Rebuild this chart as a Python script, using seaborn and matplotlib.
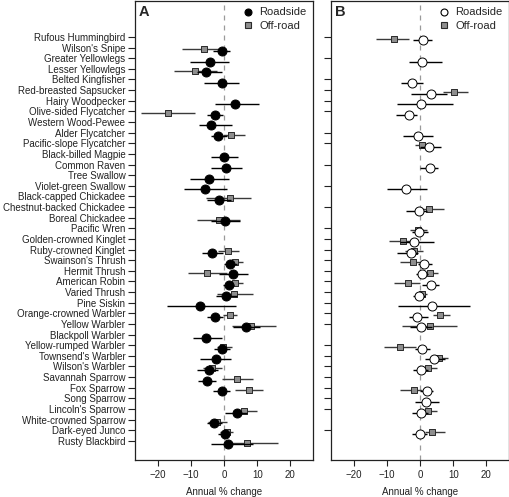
import numpy as np
import pandas as pd
import matplotlib
matplotlib.use("Agg")
import matplotlib.pyplot as plt
import seaborn as sns
from matplotlib.lines import Line2D

nan = np.nan

species = [
    "Rufous Hummingbird", "Wilson's Snipe", "Greater Yellowlegs", "Lesser Yellowlegs",
    "Belted Kingfisher", "Red-breasted Sapsucker", "Hairy Woodpecker",
    "Olive-sided Flycatcher", "Western Wood-Pewee", "Alder Flycatcher",
    "Pacific-slope Flycatcher", "Black-billed Magpie", "Common Raven", "Tree Swallow",
    "Violet-green Swallow", "Black-capped Chickadee", "Chestnut-backed Chickadee",
    "Boreal Chickadee", "Pacific Wren", "Golden-crowned Kinglet", "Ruby-crowned Kinglet",
    "Swainson's Thrush", "Hermit Thrush", "American Robin", "Varied Thrush", "Pine Siskin",
    "Orange-crowned Warbler", "Yellow Warbler", "Blackpoll Warbler", "Yellow-rumped Warbler",
    "Townsend's Warbler", "Wilson's Warbler", "Savannah Sparrow", "Fox Sparrow",
    "Song Sparrow", "Lincoln's Sparrow", "White-crowned Sparrow", "Dark-eyed Junco",
    "Rusty Blackbird",
]

# Panel A - roadside (estimate, lower, upper)
a_road_est = [nan, -0.5, -4.3, -5.3, -0.7, nan, 3.3, -2.7, -3.8, -1.7, nan, 0.0, 0.6, -4.5,
              -5.6, -1.5, nan, 0.3, nan, nan, -3.7, 1.8, 2.8, 1.4, 0.6, -7.3, -2.8, 6.6,
              -5.3, -0.7, -2.3, -4.5, -5.0, -0.5, nan, 3.8, -3.0, 0.3, 1.3]
a_road_lo = [nan, -3.2, -10.3, -8.0, -6.0, nan, -2.7, -5.2, -7.5, -3.9, nan, -3.9, -4.0, -10.2,
             -11.9, -5.0, nan, -4.0, nan, nan, -6.7, 0.0, -1.5, -0.2, -2.4, -17.2, -5.2, 2.8,
             -9.2, -2.9, -7.2, -8.2, -7.7, -3.2, nan, 0.3, -5.2, -1.7, -4.0]
a_road_hi = [nan, 1.8, 1.6, -0.5, 4.4, nan, 10.6, -0.4, 2.3, 0.8, nan, 4.3, 5.3, 1.6,
             0.8, 2.0, nan, 4.8, nan, nan, -0.2, 3.8, 7.1, 3.1, 3.8, 3.5, -0.4, 10.8,
             -0.5, 1.8, 2.1, -1.7, -2.4, 1.8, nan, 6.8, -0.7, 1.8, 8.8]

# Panel A - off-road
a_off_est = [nan, -6.0, nan, -8.8, nan, nan, nan, -17.0, nan, 2.1, nan, nan, nan, nan,
             nan, 1.8, nan, -1.5, nan, nan, 1.3, 3.3, -5.0, 3.3, 3.1, nan, 1.8, 8.0,
             nan, -0.2, nan, -3.6, 4.0, 7.5, nan, 6.0, -2.0, 0.8, 6.8]
a_off_lo = [nan, -12.7, nan, -15.0, nan, nan, nan, -25.0, nan, -0.2, nan, nan, nan, nan,
            nan, -5.5, nan, -8.0, nan, nan, -1.7, 0.8, -10.7, 0.8, -2.2, nan, -0.2, 2.5,
            nan, -2.2, nan, -6.2, -0.7, 3.3, nan, 2.8, -4.7, -1.2, 1.8]
a_off_hi = [nan, 0.5, nan, -2.0, nan, nan, nan, -8.7, nan, 6.3, nan, nan, nan, nan,
            nan, 8.0, nan, 4.8, nan, nan, 4.5, 5.6, 0.8, 5.6, 8.6, nan, 4.0, 15.8,
            nan, 2.3, nan, -0.7, 8.8, 11.8, nan, 9.8, 0.8, 2.8, 16.3]

# Panel B - roadside
b_road_est = [1.0, nan, 0.7, nan, -2.5, 3.4, 0.2, -3.3, nan, -0.7, 2.7, nan, 3.0, nan,
              -4.1, nan, -0.4, nan, -0.4, -1.8, -2.8, 1.3, 0.5, 3.2, -0.3, 3.7, -1.0, 0.4,
              nan, 0.7, 4.3, 0.4, nan, 2.0, 1.9, 0.2, nan, -0.1, nan]
b_road_lo = [-2.0, nan, -3.3, nan, -5.8, -2.8, -7.0, -7.2, nan, -5.0, 0.0, nan, 0.0, nan,
             -10.0, nan, -4.2, nan, -2.5, -6.0, -6.8, -0.5, -1.2, 0.5, -2.2, -6.5, -3.2, -3.0,
             nan, -1.5, 1.5, -2.2, nan, 0.0, -1.5, -2.5, nan, -2.5, nan]
b_road_hi = [3.5, nan, 6.7, nan, 0.8, 8.0, 10.0, -0.8, nan, 4.0, 6.2, nan, 5.5, nan,
             2.0, nan, 2.0, nan, 2.5, 4.2, -0.5, 3.5, 2.5, 5.7, 1.5, 15.2, 2.3, 3.5,
             nan, 3.0, 7.5, 2.5, nan, 4.0, 5.8, 2.5, nan, 2.0, nan]

# Panel B - off-road
b_off_est = [-7.7, nan, nan, nan, nan, 10.3, nan, nan, nan, nan, 0.7, nan, nan, nan,
             nan, nan, 2.6, nan, -0.6, -5.2, -1.8, -2.0, 3.0, -3.5, 0.7, nan, 6.1, 3.0,
             nan, -6.0, 5.6, 2.3, nan, -1.9, nan, 2.3, nan, 3.7, nan]
b_off_lo = [-13.3, nan, nan, nan, nan, 6.8, nan, nan, nan, nan, -1.5, nan, nan, nan,
            nan, nan, 0.0, nan, -3.0, -9.2, -4.5, -6.0, 1.0, -7.8, -1.5, nan, 4.0, -5.5,
            nan, -10.7, 3.5, 0.5, nan, -6.0, nan, 0.5, nan, 1.5, nan]
b_off_hi = [-3.2, nan, nan, nan, nan, 14.5, nan, nan, nan, nan, 2.0, nan, nan, nan,
            nan, nan, 7.2, nan, 2.0, -2.2, 1.0, 0.5, 5.5, 0.0, 2.0, nan, 9.0, 11.0,
            nan, -1.3, 8.5, 5.0, nan, 0.5, nan, 5.0, nan, 7.5, nan]

# species that get a tick mark in panel B
b_tick_extra = ["Savannah Sparrow"]

x_ticks = [-20, -10, 0, 10, 20]

sns.set_style("ticks")
plt.rcParams["font.family"] = ["Liberation Sans", "DejaVu Sans"]

fig = plt.figure(figsize=(5.1, 4.97), dpi=100)
ax_a = fig.add_axes([0.2647, 0.0744, 0.349, 0.924])
ax_b = fig.add_axes([0.649, 0.0744, 0.349, 0.924])

pos = np.arange(len(species))


def draw_panel(ax, road, off, road_fill, letter):
    ax.axvline(0, color="#9a9a9a", lw=0.9, ls=(0, (4, 4)), zorder=1)

    est, lo, hi = off
    df = pd.DataFrame({"est": est, "lo": lo, "hi": hi, "y": pos + 0.18}).dropna()
    ax.hlines(df["y"], df["lo"], df["hi"], color="#3a3a3a", lw=1.0, zorder=2)
    sns.scatterplot(data=df, x="est", y="y", marker="s", s=24, color="#8e8e8e",
                    edgecolor="#2a2a2a", linewidth=0.7, ax=ax, legend=False, zorder=3)

    est, lo, hi = road
    df = pd.DataFrame({"est": est, "lo": lo, "hi": hi, "y": pos + 0.33}).dropna()
    ax.hlines(df["y"], df["lo"], df["hi"], color="black", lw=1.0, zorder=4)
    sns.scatterplot(data=df, x="est", y="y", marker="o", s=42, color=road_fill,
                    edgecolor="black", linewidth=0.7, ax=ax, legend=False, zorder=5)

    ax.set_xlim(-26.8, 26.8)
    ax.set_ylim(39.8, -3.4)
    ax.set_xticks(x_ticks)
    ax.set_xticklabels([str(t).replace("-", "\u2212") for t in x_ticks])
    ax.set_xlabel("Annual % change", fontsize=7, color="#222222", labelpad=5)
    ax.set_ylabel("")
    ax.tick_params(axis="x", length=4, width=0.8, labelsize=7, colors="#222222", pad=3)
    ax.tick_params(axis="y", length=5, width=0.8, labelsize=7, colors="#222222", pad=2)
    for sp in ax.spines.values():
        sp.set_visible(True)
        sp.set_color("#222222")
        sp.set_linewidth(0.9)

    ax.text(0.02, 0.99, letter, transform=ax.transAxes, fontsize=10.5,
            fontweight="bold", va="top", ha="left")

    handles = [
        Line2D([], [], marker="o", ls="none", markersize=5, markerfacecolor=road_fill,
               markeredgecolor="black", markeredgewidth=0.8),
        Line2D([], [], marker="s", ls="none", markersize=4.2, markerfacecolor="#8e8e8e",
               markeredgecolor="#2a2a2a", markeredgewidth=0.8),
    ]
    leg = ax.legend(handles, ["Roadside", "Off-road"], loc="upper right", fontsize=8,
                    frameon=True, framealpha=1, handlelength=1.0, handletextpad=0.5,
                    labelspacing=0.35, borderaxespad=0.3, borderpad=0.3)
    leg.get_frame().set_edgecolor("white")
    leg.get_frame().set_linewidth(0)


draw_panel(ax_a, (a_road_est, a_road_lo, a_road_hi), (a_off_est, a_off_lo, a_off_hi),
           "black", "A")
draw_panel(ax_b, (b_road_est, b_road_lo, b_road_hi), (b_off_est, b_off_lo, b_off_hi),
           "white", "B")

ax_a.set_yticks(pos)
ax_a.set_yticklabels(species)

b_has = [i for i in pos if not (np.isnan(b_road_est[i]) and np.isnan(b_off_est[i]))
         or species[i] in b_tick_extra]
ax_b.set_yticks(b_has)
ax_b.set_yticklabels([])

fig.savefig("out.png", dpi=100)
